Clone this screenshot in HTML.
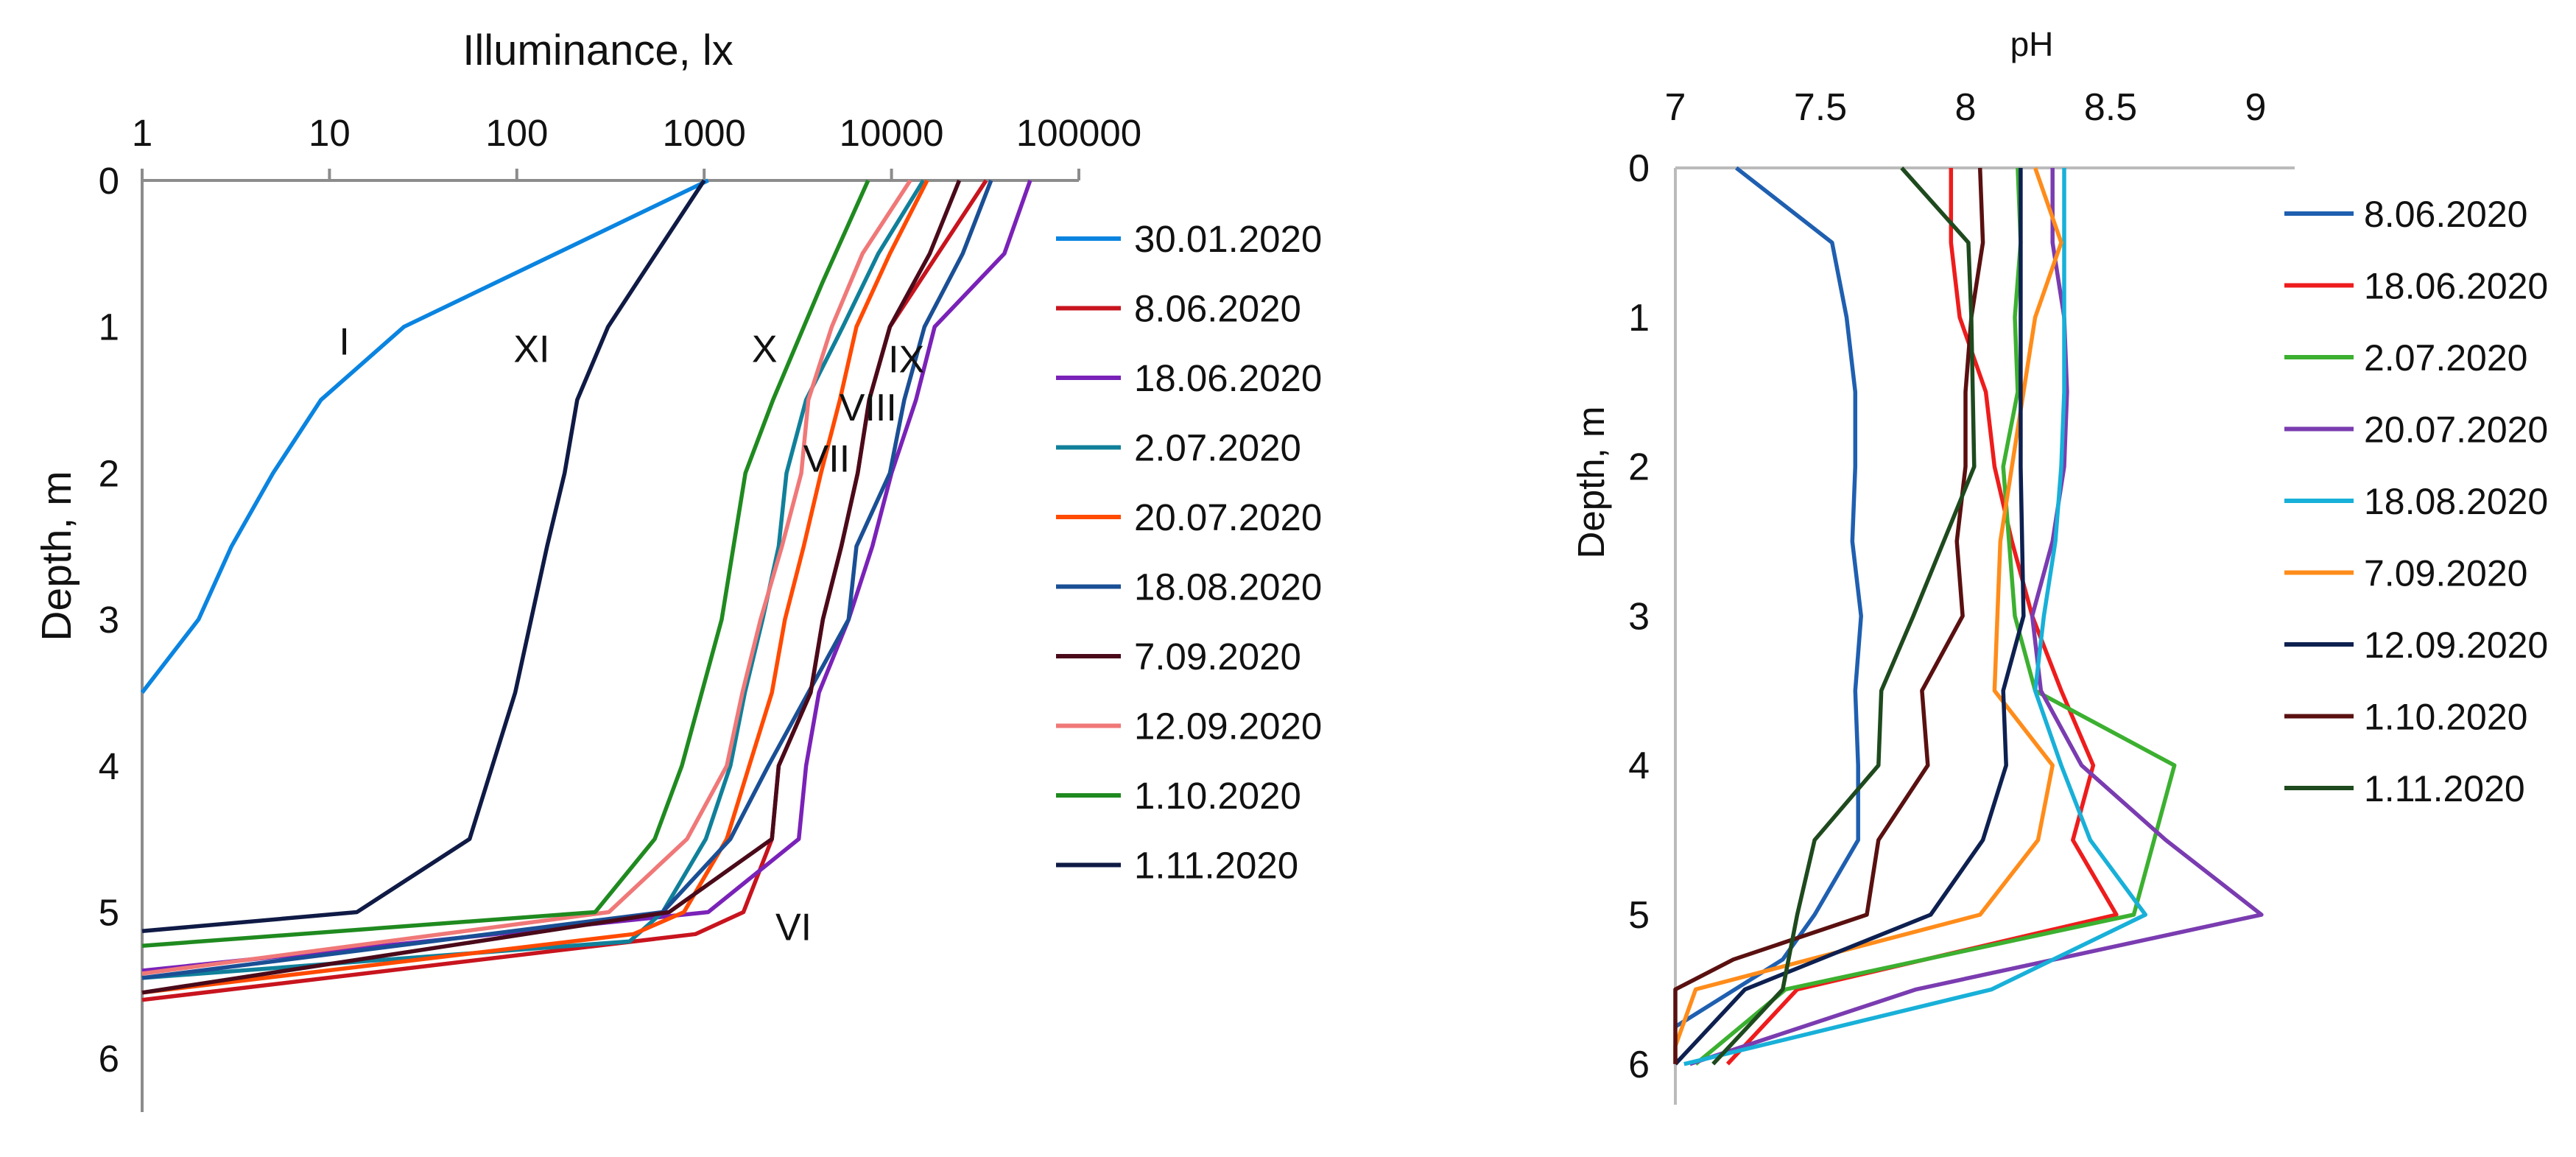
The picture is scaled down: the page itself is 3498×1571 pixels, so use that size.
<!DOCTYPE html>
<html><head><meta charset="utf-8">
<style>
html,body{margin:0;padding:0;background:#fff;}
svg{display:block;font-family:"Liberation Sans",sans-serif;}
</style></head>
<body>
<svg id="chart" width="3498" height="1571" viewBox="0 0 3498 1571">
<g id="left"></g>
<g id="right"></g>
</svg>
<script>
// ---------- Left chart data (illuminance, lx vs depth, m) ----------
const luxLabels = ["30.01.2020","8.06.2020","18.06.2020","2.07.2020","20.07.2020","18.08.2020","7.09.2020","12.09.2020","1.10.2020","1.11.2020"];
const luxColors = ["#0a84e0","#c8141e","#7a22b8","#10809a","#ff4a00","#1a4f95","#4a0a1a","#f07878","#1f8a1f","#0f1a45"];
const luxXTicks = [1,10,100,1000,10000,100000];
const luxYTicks = [0,1,2,3,4,5,6];
const d_jan = [0,1,1.5,2,2.5,3,3.5];
const v_jan = [1050,25,9,5,3,2,1];
const d_jun8 = [0,1,1.5,2,2.5,3,3.5,4,4.5,5,5.15,5.6];
const v_jun8 = [32000,9800,7600,6600,5400,4300,3700,2500,2300,1620,900,1];
const d_jun18 = [0,0.5,1,1.5,2,2.5,3,3.5,4,4.5,5,5.4];
const v_jun18 = [55000,40000,17000,13500,10000,7900,5900,4100,3500,3200,1050,1];
const d_jul2 = [0,0.5,1,1.5,2,2.5,3,3.5,4,4.5,5,5.2,5.45];
const v_jul2 = [14800,8500,5500,3500,2750,2500,2050,1650,1380,1020,600,400,1];
const d_jul20 = [0,0.5,1,1.5,2,2.5,3,3.5,4,4.5,5,5.15,5.55];
const v_jul20 = [15500,9800,6500,5300,4200,3400,2700,2300,1740,1320,780,420,1];
const d_aug18 = [0,0.5,1,1.5,2,2.5,3,3.5,4,4.5,5,5.45];
const v_aug18 = [34000,24000,15000,11700,9800,6500,5900,3600,2200,1380,600,1];
const d_sep7 = [0,0.5,1,1.5,2,2.5,3,3.5,4,4.5,5,5.55];
const v_sep7 = [23000,16000,9800,7600,6600,5400,4300,3700,2500,2300,650,1];
const d_sep12 = [0,0.5,1,1.5,2,2.5,3,3.5,4,4.5,5,5.42];
const v_sep12 = [12600,7000,4800,3600,3300,2600,2000,1600,1320,810,310,1];
const d_oct1 = [0,0.7,1.5,2,3,4,4.5,5,5.23];
const v_oct1 = [7500,4270,2330,1660,1240,760,545,262,1];
const d_nov1 = [0,0.7,1,1.5,2,2.5,3.5,4.5,5,5.13];
const v_nov1 = [1000,437,307,210,180,145,98,56,14,1];
const luxDepths = [d_jan,d_jun8,d_jun18,d_jul2,d_jul20,d_aug18,d_sep7,d_sep12,d_oct1,d_nov1];
const luxValues = [v_jan,v_jun8,v_jun18,v_jul2,v_jul20,v_aug18,v_sep7,v_sep12,v_oct1,v_nov1];
const monthLabels = ["I","XI","X","IX","VIII","VII","VI"];
const monthLabelLux = [12,120,2100,12000,7500,4500,3000];
const monthLabelDepth = [1.1,1.15,1.15,1.22,1.55,1.9,5.1];

// ---------- Right chart data (pH vs depth, m) ----------
const phLabels = ["8.06.2020","18.06.2020","2.07.2020","20.07.2020","18.08.2020","7.09.2020","12.09.2020","1.10.2020","1.11.2020"];
const phColors = ["#1f5fb0","#ee1c1c","#3cb030","#7a3cb0","#18b0d8","#ff8c1a","#0d2050","#5a1010","#1e4a1e"];
const phXTicks = [7,7.5,8,8.5,9];
const phYTicks = [0,1,2,3,4,5,6];
const ph_d_jun8 = [0,0.5,1,1.5,2,2.5,3,3.5,4,4.5,5,5.3,5.75];
const ph_v_jun8 = [7.21,7.54,7.59,7.62,7.62,7.61,7.64,7.62,7.63,7.63,7.48,7.37,7.0];
const ph_d_jun18 = [0,0.5,1,1.5,2,2.5,3,3.5,4,4.5,5,5.5,6];
const ph_v_jun18 = [7.95,7.95,7.98,8.07,8.10,8.16,8.23,8.33,8.44,8.37,8.52,7.42,7.18];
const ph_d_jul2 = [0,0.5,1,1.5,2,2.5,3,3.5,4,4.5,5,5.5,6];
const ph_v_jul2 = [8.18,8.19,8.17,8.18,8.13,8.15,8.17,8.24,8.72,8.65,8.58,7.38,7.07];
const ph_d_jul20 = [0,0.5,1,1.5,2,2.5,3,3.5,4,4.5,5,5.5,6];
const ph_v_jul20 = [8.30,8.30,8.34,8.35,8.34,8.30,8.23,8.26,8.40,8.69,9.02,7.83,7.05];
const ph_d_aug18 = [0,0.5,1,1.5,2,2.5,3,3.5,4,4.5,5,5.5,6];
const ph_v_aug18 = [8.34,8.34,8.34,8.34,8.33,8.31,8.27,8.24,8.33,8.43,8.62,8.09,7.03];
const ph_d_sep7 = [0,0.5,1,1.5,2,2.5,3,3.5,4,4.5,5,5.5,5.88,6];
const ph_v_sep7 = [8.24,8.33,8.24,8.20,8.16,8.12,8.11,8.10,8.30,8.25,8.05,7.07,7.0,7.0];
const ph_d_sep12 = [0,1,2,3,3.5,4,4.5,5,5.5,6];
const ph_v_sep12 = [8.19,8.19,8.19,8.20,8.13,8.14,8.06,7.88,7.24,7.0];
const ph_d_oct1 = [0,0.5,1,1.5,2,2.5,3,3.5,4,4.5,5,5.3,5.5,6];
const ph_v_oct1 = [8.05,8.06,8.02,8.00,8.00,7.97,7.99,7.85,7.87,7.70,7.66,7.2,7.0,7.0];
const ph_d_nov1 = [0,0.5,1,2,3,3.5,4,4.5,5,5.5,6];
const ph_v_nov1 = [7.78,8.01,8.02,8.03,7.82,7.71,7.70,7.48,7.42,7.37,7.13];
const phDepths = [ph_d_jun8,ph_d_jun18,ph_d_jul2,ph_d_jul20,ph_d_aug18,ph_d_sep7,ph_d_sep12,ph_d_oct1,ph_d_nov1];
const phValues = [ph_v_jun8,ph_v_jun18,ph_v_jul2,ph_v_jul20,ph_v_aug18,ph_v_sep7,ph_v_sep12,ph_v_oct1,ph_v_nov1];

const NS = "http://www.w3.org/2000/svg";
function mk(parent, tag, attrs, text){
  const e = document.createElementNS(NS, tag);
  for (const k in attrs) e.setAttribute(k, attrs[k]);
  if (text !== undefined) e.textContent = text;
  parent.appendChild(e);
  return e;
}
const FS = 51;
const AX = "#8c8c8c";

// ---------- Left chart ----------
const L = document.getElementById('left');
const lx0 = 193, lDec = 254.4, ly0 = 245, lDy = 198.7;
const xL = v => lx0 + Math.log10(v) * lDec;
const yL = d => ly0 + d * lDy;

let t = mk(L,'text',{x:812,y:88,'text-anchor':'middle','font-size':58,fill:'#111'},'Illuminance, lx');


t = mk(L,'text',{x:0,y:0,'text-anchor':'middle','font-size':57,fill:'#111',transform:'translate(96,755) rotate(-90)'},'Depth, m');



let a = mk(L,'line',{x1:lx0,y1:ly0,x2:xL(100000),y2:ly0,stroke:AX,'stroke-width':4});


a = mk(L,'line',{x1:lx0,y1:ly0-4,x2:lx0,y2:1510,stroke:AX,'stroke-width':4});


luxXTicks.forEach(v=>{
  mk(L,'line',{x1:xL(v),y1:ly0-16,x2:xL(v),y2:ly0,stroke:AX,'stroke-width':4});
  const e = mk(L,'text',{x:xL(v),y:198,'text-anchor':'middle','font-size':FS,fill:'#111'},String(v));
  
  
});
luxYTicks.forEach(d=>{
  const e = mk(L,'text',{x:162,y:yL(d)+18,'text-anchor':'end','font-size':FS,fill:'#111'},String(d));
  
  
});
luxValues.forEach((vals,i)=>{
  const pts = vals.map((v,j)=>xL(v).toFixed(1)+','+yL(luxDepths[i][j]).toFixed(1)).join(' ');
  const p = mk(L,'polyline',{points:pts,fill:'none',stroke:luxColors[i],'stroke-width':5.5,'stroke-linejoin':'round'});
  
  
});
monthLabels.forEach((m,i)=>{
  const e = mk(L,'text',{x:xL(monthLabelLux[i]),y:yL(monthLabelDepth[i])+18,'text-anchor':'middle','font-size':52,fill:'#111'},m);
  
  
});
luxLabels.forEach((lab,i)=>{
  const y = 324 + i*94.5;
  const l = mk(L,'line',{x1:1434,y1:y,x2:1522,y2:y,stroke:luxColors[i],'stroke-width':6});
  
  
  const e = mk(L,'text',{x:1540,y:y+18,'font-size':FS,fill:'#111'},lab);
  
  
});

// ---------- Right chart ----------
const R = document.getElementById('right');
const px0 = 2275, pUnit = 394, py0 = 228, pDy = 202.8;
const xR = v => px0 + (v - 7) * pUnit;
const yR = d => py0 + d * pDy;

t = mk(R,'text',{x:2759,y:76,'text-anchor':'middle','font-size':46,fill:'#111'},'pH');


t = mk(R,'text',{x:0,y:0,'text-anchor':'middle','font-size':51,fill:'#111',transform:'translate(2178,655) rotate(-90)'},'Depth, m');


a = mk(R,'line',{x1:px0,y1:py0,x2:3116,y2:py0,stroke:'#bbb','stroke-width':4});


a = mk(R,'line',{x1:px0,y1:py0,x2:px0,y2:1500,stroke:'#bbb','stroke-width':4});


phXTicks.forEach(v=>{
  const e = mk(R,'text',{x:xR(v),y:163,'text-anchor':'middle','font-size':52,fill:'#111'},String(v));
  
  
});
phYTicks.forEach(d=>{
  const e = mk(R,'text',{x:2240,y:yR(d)+18,'text-anchor':'end','font-size':52,fill:'#111'},String(d));
  
  
});
phValues.forEach((vals,i)=>{
  const pts = vals.map((v,j)=>xR(v).toFixed(1)+','+yR(phDepths[i][j]).toFixed(1)).join(' ');
  const p = mk(R,'polyline',{points:pts,fill:'none',stroke:phColors[i],'stroke-width':5.5,'stroke-linejoin':'round'});
  
  
});
phLabels.forEach((lab,i)=>{
  const y = 290 + i*97.5;
  const l = mk(R,'line',{x1:3102,y1:y,x2:3196,y2:y,stroke:phColors[i],'stroke-width':6});
  
  
  const e = mk(R,'text',{x:3210,y:y+18,'font-size':50,fill:'#111'},lab);
  
  
});
</script>
</body></html>
